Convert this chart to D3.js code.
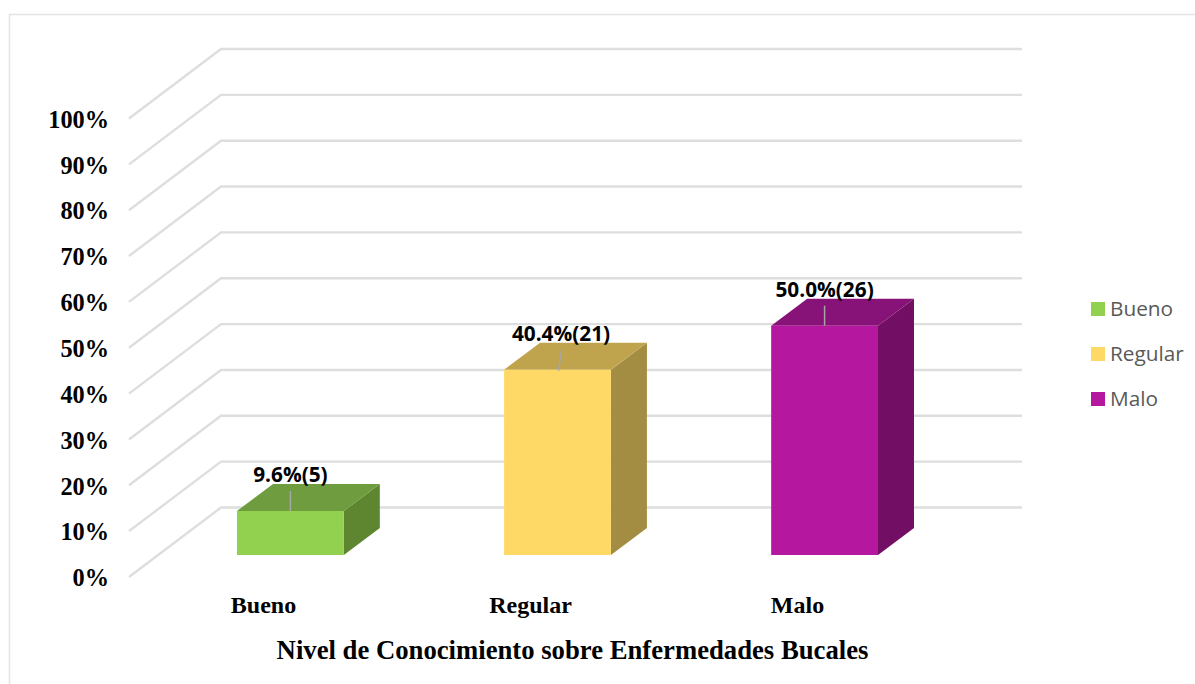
<!DOCTYPE html>
<html><head><meta charset="utf-8">
<script src="https://cdnjs.cloudflare.com/ajax/libs/d3/7.8.5/d3.min.js"></script>
<style>html,body{margin:0;padding:0;background:#fff}svg{display:block}</style>
</head><body>
<svg id="chart" width="1195" height="684"></svg>
<script>
const categories = ["Bueno", "Regular", "Malo"];
const percentValues = [9.6, 40.4, 50.0];
const counts = [5, 21, 26];
const frontColors = ["#92d050", "#ffd966", "#b5179e"];
const topColors = ["#6f9c3e", "#bfa34d", "#881378"];
const sideColors = ["#5e8530", "#a38d42", "#730e65"];
const yTicks = [0, 10, 20, 30, 40, 50, 60, 70, 80, 90, 100];
const xAxisTitle = "Nivel de Conocimiento sobre Enfermedades Bucales";

const svg = d3.select("#chart");
const serif = "'Liberation Serif', serif";
const sans = "'Open Sans', sans-serif";

svg.append("path").attr("d", "M9.5,684V14.5H1195").attr("fill", "none")
  .attr("stroke", "#e4e4e4").attr("stroke-width", 1.5);

const y = d3.scaleLinear().domain([0, 100]).range([577, 118.5]);
const x = d3.scaleBand().domain(categories).range([237, 878]).paddingInner(0.6).paddingOuter(0);

const wallX = 221, wallDy = 69.5, wallRight = 1022, frontX = 129;
const floorLift = 22, depthX = 36, depthY = 27;

// gridlines
svg.append("g").selectAll("path").data(yTicks).join("path")
  .attr("d", d => `M${frontX},${y(d)}L${wallX},${y(d) - wallDy}H${wallRight}`)
  .attr("fill", "none").attr("stroke", "#dedede").attr("stroke-width", 2.4);

// y axis
const yAxis = d3.axisLeft(y).tickValues(yTicks).tickSize(0).tickPadding(0).tickFormat(d => d + "%");
const yg = svg.append("g").attr("transform", "translate(109,1)").call(yAxis);
yg.select(".domain").remove();
yg.selectAll("text").attr("font-family", serif).attr("font-weight", "bold")
  .attr("font-size", 24.3).attr("fill", "#000");

// bars
const bars = svg.append("g").selectAll("g").data(categories).join("g");
const bw = x.bandwidth();
bars.each(function (c, i) {
  const g = d3.select(this);
  const x0 = x(c), x1 = x0 + bw;
  const yBase = y(0) - floorLift;
  const yTop = yBase - (y(0) - y(percentValues[i]));
  g.append("path").attr("fill", sideColors[i])
    .attr("d", `M${x1},${yTop}L${x1 + depthX},${yTop - depthY}V${yBase - depthY}L${x1},${yBase}Z`);
  g.append("path").attr("fill", topColors[i])
    .attr("d", `M${x0},${yTop}L${x0 + depthX},${yTop - depthY}H${x1 + depthX}L${x1},${yTop}Z`);
  g.append("rect").attr("fill", frontColors[i])
    .attr("x", x0).attr("y", yTop).attr("width", bw).attr("height", yBase - yTop);
  // leader line
  const cx = x0 + bw / 2;
  const lean = i === 1 ? 3 : 0;
  g.append("line").attr("x1", cx + lean + (i === 1 ? 1 : 0)).attr("x2", cx + (i === 1 ? 1 : 0))
    .attr("y1", yTop - 20).attr("y2", yTop + (i === 1 ? 1 : 0))
    .attr("stroke", "#a6a6a6").attr("stroke-width", 1.5);
  // value label
  g.append("text").attr("x", cx + (i === 1 ? 3.5 : 0)).attr("y", yTop - 29)
    .attr("text-anchor", "middle").attr("font-family", sans).attr("font-weight", "bold")
    .attr("font-size", 20.8).attr("fill", "#000")
    .text(`${percentValues[i].toFixed(1)}%(${counts[i]})`);
});

// category labels
const catLabelX = [263.5, 530.5, 797.5];
svg.append("g").selectAll("text").data(categories).join("text")
  .attr("x", (d, i) => catLabelX[i]).attr("y", 613)
  .attr("text-anchor", "middle").attr("font-family", serif).attr("font-weight", "bold")
  .attr("font-size", 24).attr("fill", "#000").text(d => d);

// axis title
svg.append("text").attr("x", 572.5).attr("y", 659).attr("text-anchor", "middle")
  .attr("font-family", serif).attr("font-weight", "bold").attr("font-size", 26.7)
  .attr("fill", "#000").text(xAxisTitle);

// legend
const legendRows = [309, 354, 399];
const lg = svg.append("g").selectAll("g").data(categories).join("g")
  .attr("transform", (d, i) => `translate(1091,${legendRows[i]})`);
lg.append("rect").attr("x", 0).attr("y", -7).attr("width", 14).attr("height", 14)
  .attr("fill", (d, i) => frontColors[i]);
lg.append("text").attr("x", 19).attr("y", 7).attr("font-family", sans)
  .attr("font-size", 20.8).attr("fill", "#595959").text(d => d);
</script>
</body></html>
